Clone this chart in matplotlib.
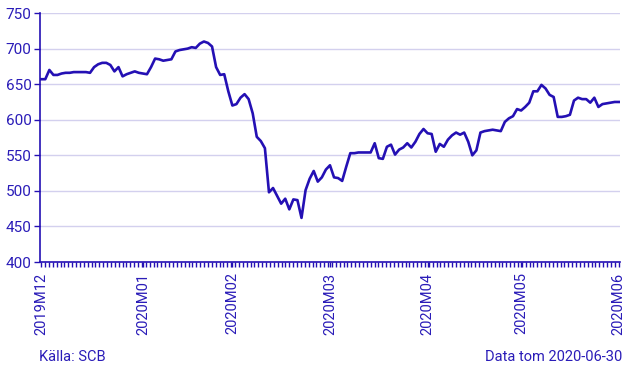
import numpy as np
import matplotlib.pyplot as plt
from matplotlib.ticker import FixedLocator

plt.rcParams['font.family'] = ['Roboto', 'DejaVu Sans']

# Index values, one per trading day
values = [
    657, 657, 670, 663, 663, 665, 666, 666, 667, 667,
    667, 667, 666, 674, 678, 680, 680, 677, 668, 674,
    661, 664, 666, 668, 666, 665, 664, 674, 686, 685,
    683, 684, 685, 696, 698, 699, 700, 702, 701, 707,
    710, 708, 703, 674, 663, 664, 640, 620, 622, 631,
    636, 629, 609, 576, 570, 560, 498, 504, 493, 482,
    489, 474, 488, 487, 462, 501, 517, 528, 513, 519,
    530, 536, 519, 518, 514, 534, 553, 553, 554, 554,
    554, 554, 567, 546, 545, 562, 565, 551, 558, 561,
    567, 561, 569, 580, 587, 581, 580, 555, 566, 562,
    572, 578, 582, 579, 582, 569, 550, 557, 582, 584,
    585, 586, 585, 584, 597, 602, 605, 615, 613, 618,
    624, 640, 640, 649, 644, 635, 632, 604, 604, 605,
    607, 627, 631, 629, 629, 624, 631, 618, 622, 623,
    624, 625, 625,
]
month_labels = ['2019M12', '2020M01', '2020M02', '2020M03', '2020M04', '2020M05', '2020M06']
month_index = [0, 25, 47, 71, 95, 118, 142]
y_ticks = [400, 450, 500, 550, 600, 650, 700, 750]

line_color = '#2410b4'
text_color = '#2a1cb8'
grid_color = '#d3d0ee'

fig = plt.figure(figsize=(6.38, 3.71), dpi=100)
ax = fig.add_axes([0.0627, 0.2938, 0.909, 0.671])

x = np.arange(len(values))
ax.plot(x, values, color=line_color, linewidth=1.9, solid_joinstyle='round', zorder=3)

ax.set_xlim(-0.3, len(values) - 1 + 0.3)
ax.set_ylim(400, 750)
ax.set_yticks(y_ticks)
ax.set_yticklabels([str(v) for v in y_ticks], fontsize=11, color=text_color)
ax.yaxis.grid(True, color=grid_color, linewidth=1.0)
ax.set_axisbelow(True)

ax.set_xticks(month_index)
ax.set_xticklabels(month_labels, rotation=90, fontsize=10.5, color=text_color)
ax.xaxis.set_minor_locator(FixedLocator(np.linspace(0, len(values) - 1, 150)))
ax.tick_params(axis='x', which='both', length=3.5, width=1, color=line_color, pad=4)
ax.tick_params(axis='y', length=4, width=1, color=line_color, pad=2)

for side in ['top', 'right']:
    ax.spines[side].set_visible(False)
for side in ['left', 'bottom']:
    ax.spines[side].set_color(line_color)
    ax.spines[side].set_linewidth(1.2)

fig.text(0.061, 0.018, 'Källa: SCB', fontsize=10.5, color=text_color, ha='left', va='bottom')
fig.text(0.976, 0.018, 'Data tom 2020-06-30', fontsize=10.5, color=text_color, ha='right', va='bottom')

fig.savefig('out.png', dpi=100)
